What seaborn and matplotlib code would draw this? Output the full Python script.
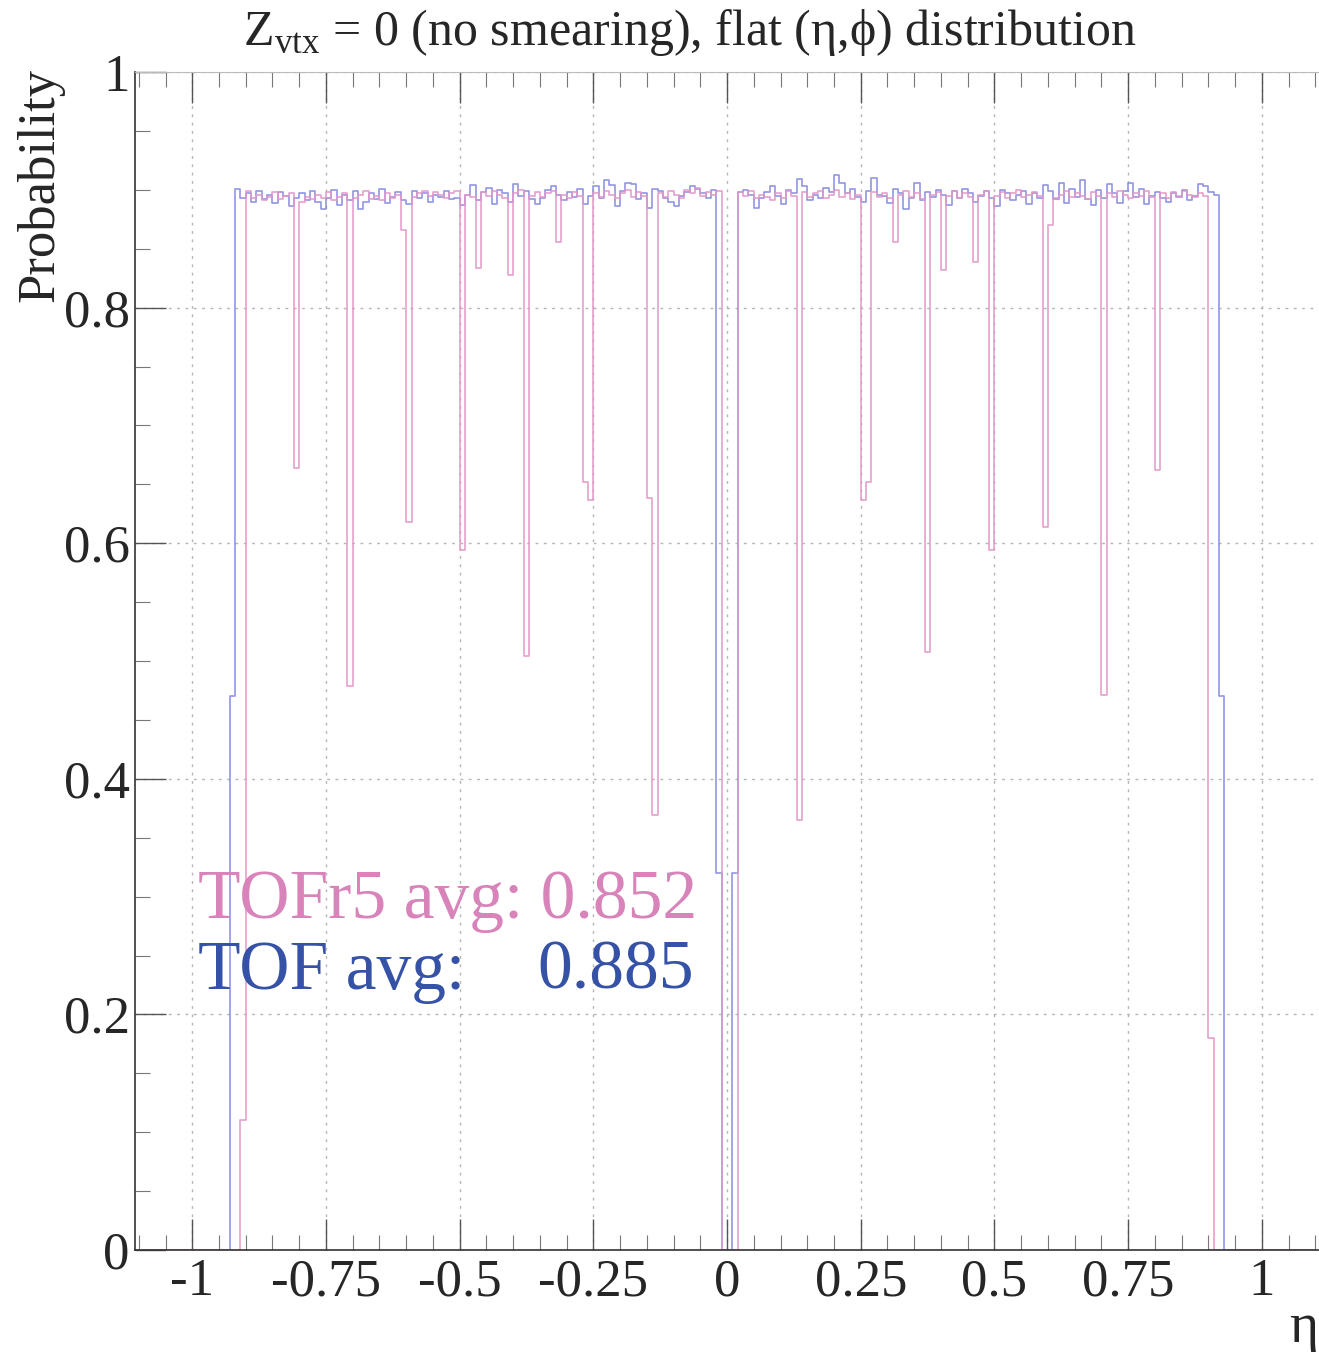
import numpy as np
import pandas as pd
import matplotlib
matplotlib.use("Agg")
import matplotlib.pyplot as plt
import seaborn as sns
from matplotlib.ticker import MultipleLocator, FuncFormatter

# efficiency vs eta, 0.01 wide bins from -0.93 to 0.93 (zero outside)
bin_lo = -0.93
bin_hi = 0.93
bin_w = 0.01

tof_eff = [
    0.470, 0.901, 0.893, 0.897, 0.890, 0.899, 0.892, 0.896, 0.889, 0.898,
    0.895, 0.886, 0.893, 0.897, 0.891, 0.899, 0.890, 0.884, 0.893, 0.900,
    0.887, 0.896, 0.891, 0.899, 0.884, 0.890, 0.897, 0.892, 0.901, 0.889,
    0.894, 0.898, 0.891, 0.888, 0.899, 0.893, 0.897, 0.890, 0.896, 0.894,
    0.899, 0.892, 0.893, 0.887, 0.896, 0.904, 0.891, 0.898, 0.902, 0.888,
    0.900, 0.897, 0.890, 0.905, 0.895, 0.899, 0.892, 0.888, 0.893, 0.900,
    0.903, 0.896, 0.891, 0.898, 0.894, 0.901, 0.888, 0.895, 0.903, 0.893,
    0.908, 0.904, 0.886, 0.899, 0.906, 0.905, 0.892, 0.897, 0.885, 0.901,
    0.899, 0.893, 0.890, 0.886, 0.895, 0.898, 0.903, 0.901, 0.897, 0.893,
    0.900, 0.320, 0.000, 0.000, 0.320, 0.898, 0.900, 0.896, 0.885, 0.893,
    0.898, 0.903, 0.895, 0.888, 0.900, 0.897, 0.909, 0.903, 0.891, 0.896,
    0.893, 0.902, 0.898, 0.913, 0.906, 0.897, 0.901, 0.894, 0.890, 0.899,
    0.910, 0.896, 0.895, 0.889, 0.901, 0.897, 0.884, 0.893, 0.906, 0.891,
    0.898, 0.894, 0.900, 0.896, 0.887, 0.899, 0.893, 0.901, 0.897, 0.890,
    0.895, 0.899, 0.893, 0.886, 0.900, 0.897, 0.891, 0.896, 0.899, 0.888,
    0.897, 0.893, 0.904, 0.899, 0.892, 0.906, 0.889, 0.901, 0.894, 0.908,
    0.892, 0.887, 0.900, 0.893, 0.905, 0.897, 0.889, 0.899, 0.906, 0.894,
    0.901, 0.888, 0.895, 0.898, 0.893, 0.890, 0.897, 0.894, 0.900, 0.891,
    0.895, 0.905, 0.903, 0.898, 0.896, 0.470,
]

tofr5_eff = [
    0.000, 0.000, 0.110, 0.899, 0.893, 0.896, 0.891, 0.894, 0.898, 0.892,
    0.895, 0.897, 0.664, 0.890, 0.894, 0.892, 0.896, 0.893, 0.898, 0.891,
    0.894, 0.897, 0.479, 0.893, 0.896, 0.899, 0.892, 0.895, 0.891, 0.897,
    0.893, 0.896, 0.866, 0.618, 0.894, 0.897, 0.899, 0.895, 0.898, 0.896,
    0.893, 0.897, 0.899, 0.594, 0.896, 0.894, 0.834, 0.898, 0.895, 0.899,
    0.896, 0.893, 0.828, 0.897, 0.900, 0.504, 0.895, 0.898, 0.894, 0.897,
    0.899, 0.856, 0.896, 0.893, 0.898, 0.895, 0.652, 0.637, 0.897, 0.894,
    0.899, 0.896, 0.893, 0.897, 0.900, 0.894, 0.898, 0.895, 0.638, 0.369,
    0.897, 0.894, 0.899, 0.896, 0.893, 0.900, 0.897, 0.902, 0.895, 0.898,
    0.896, 0.899, 0.000, 0.000, 0.000, 0.898, 0.895, 0.899, 0.893, 0.896,
    0.894, 0.891, 0.897, 0.893, 0.899, 0.895, 0.365, 0.898, 0.894, 0.897,
    0.899, 0.893, 0.896, 0.900, 0.894, 0.897, 0.892, 0.896, 0.637, 0.652,
    0.898, 0.894, 0.897, 0.893, 0.856, 0.896, 0.899, 0.894, 0.897, 0.892,
    0.508, 0.896, 0.898, 0.832, 0.895, 0.899, 0.893, 0.897, 0.894, 0.839,
    0.896, 0.899, 0.594, 0.895, 0.898, 0.893, 0.897, 0.900, 0.894, 0.896,
    0.898, 0.895, 0.614, 0.870, 0.893, 0.896, 0.899, 0.894, 0.897, 0.895,
    0.892, 0.898, 0.895, 0.471, 0.897, 0.894, 0.899, 0.896, 0.893, 0.897,
    0.895, 0.899, 0.894, 0.662, 0.897, 0.893, 0.898, 0.895, 0.899, 0.896,
    0.894, 0.897, 0.895, 0.180, 0.000, 0.000,
]

tofr5_label = "TOFr5 avg: 0.852"
tof_label = "TOF avg:"
tof_avg = "0.885"
x_ticks = [-1, -0.75, -0.5, -0.25, 0, 0.25, 0.5, 0.75, 1]
y_ticks = [0, 0.2, 0.4, 0.6, 0.8, 1]

pink = "#e396c8"
blue = "#858be0"
pink_txt = "#d883b9"
blue_txt = "#3652a6"

sns.set_style("ticks")
serif = ["Liberation Serif", "DejaVu Serif"]
plt.rcParams["font.family"] = serif
plt.rcParams["mathtext.fontset"] = "custom"
plt.rcParams["mathtext.rm"] = "Liberation Serif"
plt.rcParams["axes.unicode_minus"] = False

# pad with empty bins so the histogram runs along zero over the full frame
n_pad = 17
edges = np.round(np.arange(bin_lo - n_pad * bin_w, bin_hi + n_pad * bin_w + bin_w / 2, bin_w), 3)
centers = (edges[:-1] + edges[1:]) / 2
pad = [0.0] * n_pad
df = pd.DataFrame({
    "eta": centers,
    "tof": pad + tof_eff + pad,
    "tofr5": pad + tofr5_eff + pad,
})

fig = plt.figure(figsize=(13.19, 13.52), dpi=100)
ax = fig.add_axes([0.1024, 0.0754, 0.8976, 0.8713])

sns.histplot(data=df, x="eta", weights="tof", bins=edges.tolist(), element="step", fill=False,
             color=blue, lw=1.2, alpha=0.9, ax=ax)
sns.histplot(data=df, x="eta", weights="tofr5", bins=edges.tolist(), element="step", fill=False,
             color=pink, lw=1.2, alpha=0.9, ax=ax)

ax.set_xlim(-1.107, 1.107)
ax.set_ylim(0, 1)
ax.set_xlabel("")
ax.set_ylabel("")

ax.set_xticks(x_ticks)
ax.set_yticks(y_ticks)
fmt = FuncFormatter(lambda v, p: "%g" % v)
ax.xaxis.set_major_formatter(fmt)
ax.yaxis.set_major_formatter(fmt)
ax.xaxis.set_minor_locator(MultipleLocator(0.05))
ax.yaxis.set_minor_locator(MultipleLocator(0.05))
ax.tick_params(axis="both", which="major", direction="in", length=22, width=1,
               labelsize=38, color="#555555")
ax.tick_params(axis="both", which="minor", direction="in", length=11, width=0.8,
               color="#777777")
ax.tick_params(axis="x", which="both", top=True, pad=6)
ax.tick_params(axis="y", pad=4)

ax.grid(True, which="major", color="#b5b5b5", linestyle=(0, (2, 4)), lw=1)
for s in ["left", "bottom"]:
    ax.spines[s].set_color("#333333")
    ax.spines[s].set_linewidth(1.2)
ax.spines["top"].set_color("#bbbbbb")
ax.spines["right"].set_visible(False)

ax.text(-0.99, 0.282, tofr5_label, color=pink_txt, fontsize=50, va="baseline", ha="left")
ax.text(-0.99, 0.222, tof_label, color=blue_txt, fontsize=50, va="baseline", ha="left")
ax.text(-0.355, 0.222, tof_avg, color=blue_txt, fontsize=50, va="baseline", ha="left")

fig.text(0.523, 0.976, r"Z$_{\mathrm{vtx}}$ = 0 (no smearing), flat (η,ϕ) distribution",
         fontsize=36, ha="center", va="center")
fig.text(0.031, 0.950, "Probability", fontsize=38, rotation=90, ha="center", va="top")
fig.text(0.988, 0.018, "η", fontsize=40, ha="center", va="center")

plt.savefig("out.png", dpi=100)
plt.close()
